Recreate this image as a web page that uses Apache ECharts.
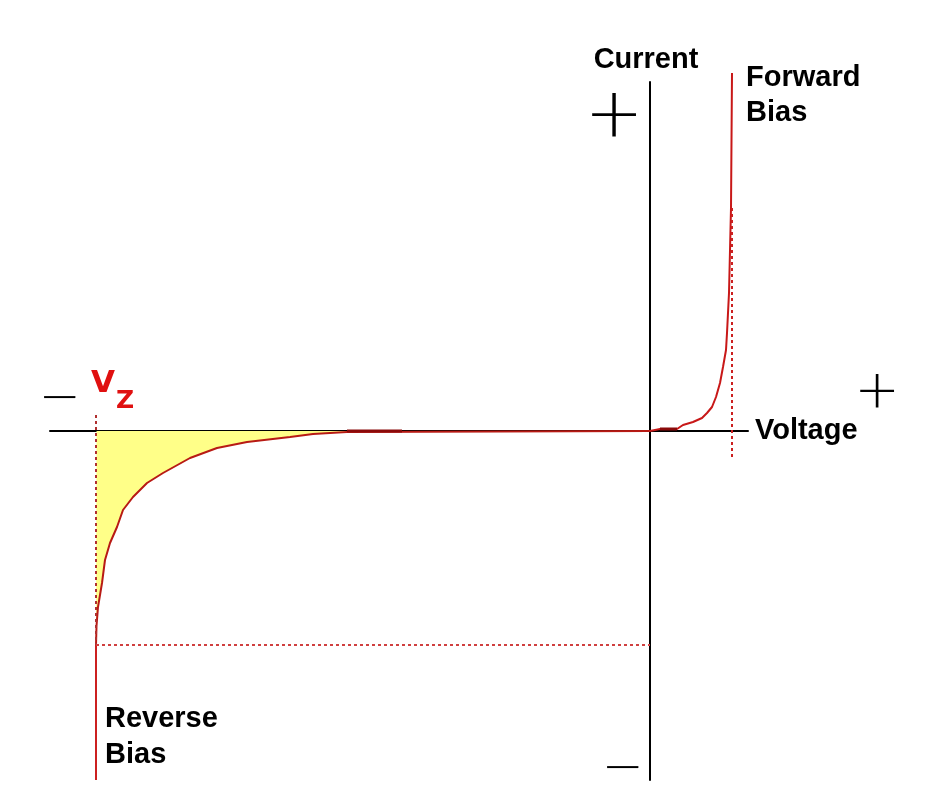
<!DOCTYPE html>
<html>
<head>
<meta charset="utf-8">
<title>Zener diode characteristic</title>
<script src="https://cdn.jsdelivr.net/npm/echarts@6/dist/echarts.min.js"></script>
<style>
html,body{margin:0;padding:0;background:#fff;}
#main{width:936px;height:809px;}
</style>
</head>
<body>
<div id="main"></div>
<script>
// axis ranges (voltage in V, current in mA, arbitrary scale)
var xRange = [-6, 0.98];
var yRange = [-34.9, 34.9];

// reverse bias curve (from Vz up to the origin)
var reverseV = [-5.54, -5.535, -5.52, -5.48, -5.45, -5.40, -5.33, -5.27, -5.17, -5.03, -4.87, -4.60, -4.33, -4.03, -3.60, -3.37, -3.03, 0];
var reverseI = [-21.4, -19.5, -17.6, -15.2, -12.9, -11.2, -9.6, -7.9, -6.6, -5.2, -4.2, -2.7, -1.7, -1.1, -0.6, -0.3, -0.1, 0];

// breakdown line below the knee
var breakV = [-5.54, -5.54];
var breakI = [-21.4, -34.9];

// forward bias curve
var forwardV = [0, 0.10, 0.27, 0.33, 0.43, 0.52, 0.57, 0.62, 0.66, 0.70, 0.73, 0.76, 0.77, 0.78, 0.79, 0.81, 0.82];
var forwardI = [0, 0.2, 0.2, 0.6, 0.9, 1.3, 1.8, 2.4, 3.4, 4.8, 6.4, 8.1, 9.8, 11.8, 13.8, 22.3, 35.8];

// dotted guide lines
var vzGuideV = [-5.54, -5.54];
var vzGuideI = [1.6, -21.4];
var izGuideV = [-5.54, 0];
var izGuideI = [-21.4, -21.4];
var fwdGuideV = [0.82, 0.82];
var fwdGuideI = [22.3, -2.9];

// darker overdrawn pieces along the axis
var darkRevV = [-3.03, -2.48];
var darkRevI = [0, 0];
var darkFwdV = [0.10, 0.27];
var darkFwdI = [0.2, 0.2];

function pairs(xs, ys){
	var out = [];
	for (var i = 0; i < xs.length; i++) {
		out.push([xs[i], ys[i]]);
	}
	return out;
}

var labelFont = '"Liberation Sans Narrow", "Arial Narrow", "Liberation Sans", sans-serif';
var signFont = '"DejaVu Sans", sans-serif';

function txt(str, x, y, size, opts){
	opts = opts || {};
	return {
		type: 'text',
		x: x, y: y,
		z: 10,
		style: {
			text: str,
			fontFamily: opts.family || labelFont,
			fontSize: size,
			fontWeight: opts.weight || 'bold',
			fill: opts.color || '#000',
			align: opts.align || 'left',
			verticalAlign: 'middle'
		}
	};
}

var myChart = echarts.init(document.getElementById('main'));

option = {
	backgroundColor: '#ffffff',
	animation: false,
	grid: {
		left: 50,
		right: 188,
		top: 82,
		bottom: 29
	},
	xAxis: {
		type: 'value',
		min: xRange[0],
		max: xRange[1],
		name: 'Voltage',
		nameLocation: 'end',
		nameGap: 7,
		nameTextStyle: {
			fontFamily: labelFont,
			fontSize: 29,
			fontWeight: 'bold',
			color: '#000',
			padding: [0, 0, 14, 0]
		},
		axisLine: { onZero: true, lineStyle: { color: '#000', width: 2 } },
		axisTick: { show: false },
		axisLabel: { show: false },
		splitLine: { show: false }
	},
	yAxis: {
		type: 'value',
		min: yRange[0],
		max: yRange[1],
		name: 'Current',
		nameLocation: 'end',
		nameGap: 8,
		nameTextStyle: {
			fontFamily: labelFont,
			fontSize: 29,
			fontWeight: 'bold',
			color: '#000',
			padding: [0, 8, 0, 0]
		},
		axisLine: { onZero: true, lineStyle: { color: '#000', width: 2 } },
		axisTick: { show: false },
		axisLabel: { show: false },
		splitLine: { show: false }
	},
	series: [
		{
			// yellow region + reverse curve
			name: 'reverse',
			type: 'line',
			data: pairs(reverseV, reverseI),
			showSymbol: false,
			smooth: false,
			z: 3,
			lineStyle: { color: '#b81a14', width: 2 },
			areaStyle: { color: '#ffff88', opacity: 1, origin: 0 }
		},
		{
			name: 'breakdown',
			type: 'line',
			data: pairs(breakV, breakI),
			showSymbol: false,
			z: 4,
			lineStyle: { color: '#cc2020', width: 2 }
		},
		{
			name: 'forward',
			type: 'line',
			data: pairs(forwardV, forwardI),
			showSymbol: false,
			clip: false,
			z: 4,
			lineStyle: { color: '#c81818', width: 2 }
		},
		{
			name: 'vzGuide',
			type: 'line',
			data: pairs(vzGuideV, vzGuideI),
			showSymbol: false,
			z: 5,
			lineStyle: { color: '#b03030', width: 2, type: [3, 3] }
		},
		{
			name: 'izGuide',
			type: 'line',
			data: pairs(izGuideV, izGuideI),
			showSymbol: false,
			z: 5,
			lineStyle: { color: '#d04040', width: 2, type: [3, 3] }
		},
		{
			name: 'fwdGuide',
			type: 'line',
			data: pairs(fwdGuideV, fwdGuideI),
			showSymbol: false,
			z: 5,
			lineStyle: { color: '#cc2020', width: 2, type: [3, 3] }
		},
		{
			name: 'darkRev',
			type: 'line',
			data: pairs(darkRevV, darkRevI),
			showSymbol: false,
			z: 6,
			lineStyle: { color: '#8a0a0a', width: 3 }
		},
		{
			name: 'darkFwd',
			type: 'line',
			data: pairs(darkFwdV, darkFwdI),
			showSymbol: false,
			z: 6,
			lineStyle: { color: '#8a0a0a', width: 3 }
		}
	],
	graphic: [
		txt('Forward', 746, 78, 29),
		txt('Bias', 746, 113, 29),
		txt('Reverse', 105, 719, 29),
		txt('Bias', 105, 755, 29),
		txt('V', 91, 384, 31, { family: signFont, color: '#e01010' }),
		txt('Z', 116, 401, 25, { family: signFont, color: '#e01010' }),
		txt('+', 614, 118, 70, { family: signFont, weight: 200, align: 'center' }),
		txt('+', 877, 394, 54, { family: signFont, weight: 200, align: 'center' }),
		txt('\u2212', 60, 400, 50, { family: signFont, weight: 200, align: 'center' }),
		txt('\u2212', 623, 770, 50, { family: signFont, weight: 200, align: 'center' })
	]
};

myChart.setOption(option);
</script>
</body>
</html>
